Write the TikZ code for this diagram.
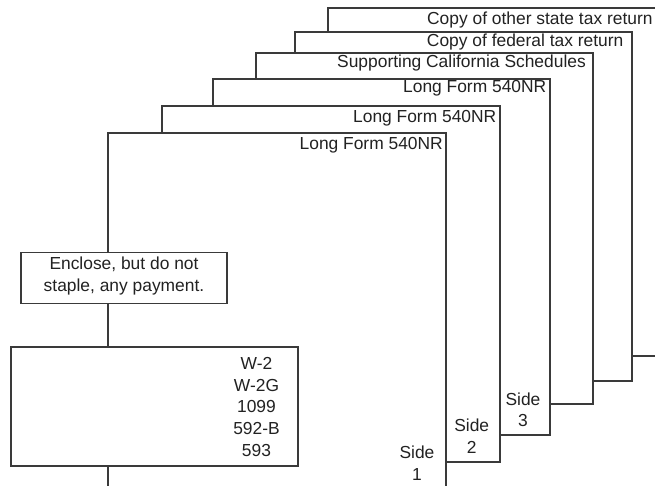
\documentclass[tikz,border=0pt]{standalone}
\usepackage{fontspec}
\setmainfont{Liberation Sans}
\definecolor{linec}{HTML}{3A3A3A}
\definecolor{txtc}{HTML}{222222}
\begin{document}
\begin{tikzpicture}[x=1pt,y=-1pt,
  page/.style={draw=linec, fill=white, line width=1.2pt},
  lbl/.style={anchor=east, inner sep=0pt, text=txtc, font=\fontsize{17.4}{21.5}\selectfont},
  box/.style={draw=linec, fill=white, line width=1.2pt, inner sep=0pt, text=txtc, align=center, font=\fontsize{17.4}{22}\selectfont},
  txt/.style={inner sep=0pt, text=txtc, align=center, font=\fontsize{17.4}{21.5}\selectfont}]
\useasboundingbox (0,0) rectangle (655,486);
\clip (0,0) rectangle (655,486);
% pages, back to front
\draw[page] (328,8) rectangle (670,356);
\node[lbl] (t6) at (652.7,20) {Copy of other state tax return};
\draw[page] (295,32) rectangle (632,381);
\node[lbl] (t5) at (623.5,42) {Copy of federal tax return};
\draw[page] (256,53) rectangle (593,404);
\node[lbl] (t4) at (586,63) {Supporting California Schedules};
\draw[page] (213,79) rectangle (550,435);
\node[lbl] (t3) at (546.5,88) {Long Form 540NR};
\draw[page] (162,106) rectangle (500,462);
\node[lbl] (t2) at (496.5,118) {Long Form 540NR};
\draw[page] (108,133) rectangle (446,500);
\node[lbl] (t1) at (443,145) {Long Form 540NR};
% side labels
\node[txt] (s3) at (523,410) {Side\\3};
\node[txt] (s2) at (471.7,436) {Side\\2};
\node[txt] (s1) at (417,463) {Side\\1};
% boxes
\node[box, minimum width=206pt, minimum height=50.6pt] (encl) at (124,278) {};
\node[txt, font=\fontsize{17.4}{22.3}\selectfont] (enclt) at (124,276.2) {Enclose, but do not\\staple, any payment.};
\node[box, minimum width=287pt, minimum height=119pt] (forms) at (154.5,406.5) {};
\node[txt, font=\fontsize{17.4}{21.85}\selectfont] (formst) at (256.5,407) {W-2\\W-2G\\1099\\592-B\\593};
\end{tikzpicture}
\end{document}
